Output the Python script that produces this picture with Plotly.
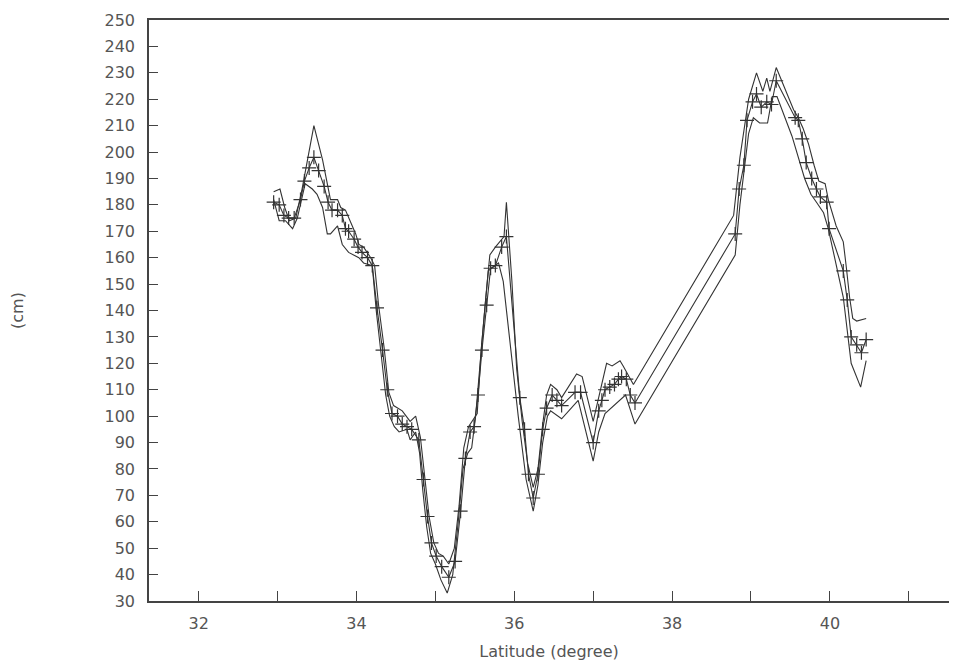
import plotly.graph_objects as go

# Center estimate (with + markers)
lat_c = [32.95, 33.02, 33.08, 33.14, 33.21, 33.29, 33.34, 33.40, 33.46, 33.52, 33.59, 33.64, 33.69,
         33.76, 33.82, 33.86, 33.90, 33.97, 34.02, 34.07, 34.14, 34.20, 34.26, 34.33, 34.39, 34.45,
         34.52, 34.58, 34.64, 34.70, 34.79, 34.85, 34.90, 34.95, 35.01, 35.08, 35.17, 35.25, 35.32,
         35.38, 35.44, 35.49, 35.54, 35.59, 35.65, 35.70, 35.76, 35.84, 35.90, 36.07, 36.13, 36.18,
         36.24, 36.30, 36.36, 36.41, 36.48, 36.54, 36.60, 36.77, 36.84, 37.00, 37.07, 37.11, 37.15,
         37.21, 37.27, 37.32, 37.36, 37.42, 37.47, 37.53, 38.80, 38.85, 38.91, 38.95, 39.02, 39.07,
         39.13, 39.20, 39.26, 39.32, 39.56, 39.60, 39.65, 39.70, 39.77, 39.83, 39.88, 39.96, 39.99,
         40.17, 40.22, 40.27, 40.34, 40.40, 40.46]
val_c = [181, 180, 176, 175, 175, 182, 189, 194, 198, 193, 187, 181, 178,
         178, 176, 171, 170, 167, 164, 162, 160, 157, 141, 125, 110, 101,
         100, 97, 96, 95, 91, 76, 62, 52, 47, 43, 39, 45, 64,
         84, 94, 96, 108, 125, 142, 156, 157, 164, 168, 107, 95, 78,
         69, 78, 95, 103, 108, 106, 104, 109, 109, 90, 102, 106, 110,
         111, 112, 114, 115, 114, 108, 105, 169, 186, 195, 212, 219, 222,
         217, 219, 218, 227, 213, 212, 205, 196, 190, 186, 183, 181, 171,
         155, 144, 130, 127, 124, 129]

# Upper bound
lat_u = [32.95, 33.03, 33.09, 33.15, 33.23, 33.31, 33.46, 33.57, 33.67, 33.76, 33.80, 33.86, 33.99,
         34.03, 34.09, 34.18, 34.23, 34.28, 34.35, 34.41, 34.47, 34.58, 34.68, 34.75, 34.81, 34.87,
         34.92, 34.98, 35.04, 35.10, 35.17, 35.24, 35.30, 35.36, 35.42, 35.53, 35.58, 35.64, 35.69,
         35.76, 35.87, 35.90, 35.97, 36.03, 36.10, 36.17, 36.24, 36.30, 36.36, 36.41, 36.46, 36.54,
         36.60, 36.79, 36.86, 37.00, 37.17, 37.24, 37.34, 37.38, 37.51, 38.78, 38.86, 38.97, 39.07,
         39.15, 39.20, 39.24, 39.32, 39.54, 39.60, 39.66, 39.73, 39.80, 39.86, 39.94, 39.98, 40.08,
         40.17, 40.21, 40.25, 40.29, 40.34, 40.46]
val_u = [185, 186, 179, 174, 175, 186, 210, 197, 182, 182, 179, 178, 169,
         165, 164, 160, 157, 142, 126, 109, 104, 102, 98, 100, 92, 76,
         62, 52, 48, 47, 44, 50, 66, 88, 96, 101, 125, 145, 161,
         164, 168, 181, 151, 118, 98, 82, 73, 80, 97, 108, 112, 110,
         107, 116, 115, 98, 120, 119, 121, 119, 112, 176, 198, 220, 230,
         223, 228, 223, 232, 216, 213, 209, 203, 195, 189, 188, 182, 172,
         166, 156, 145, 137, 136, 137]

# Lower bound
lat_l = [32.95, 33.02, 33.10, 33.19, 33.25, 33.35, 33.44, 33.50, 33.57, 33.63, 33.67, 33.76, 33.82,
         33.90, 34.03, 34.09, 34.20, 34.25, 34.31, 34.37, 34.42, 34.48, 34.54, 34.64, 34.68, 34.75,
         34.80, 34.84, 34.89, 34.94, 35.00, 35.07, 35.15, 35.22, 35.29, 35.35, 35.41, 35.46, 35.51,
         35.57, 35.63, 35.67, 35.80, 35.86, 36.05, 36.15, 36.24, 36.30, 36.36, 36.42, 36.46, 36.60,
         36.81, 37.00, 37.07, 37.15, 37.41, 37.53, 38.80, 38.86, 38.92, 38.97, 39.03, 39.11, 39.21,
         39.27, 39.33, 39.52, 39.68, 39.76, 39.83, 39.92, 39.98, 40.17, 40.27, 40.39, 40.46]
val_l = [182, 174, 174, 171, 175, 188, 186, 184, 179, 169, 169, 172, 165,
         162, 160, 158, 157, 140, 124, 108, 100, 96, 94, 95, 91, 94,
         86, 72, 58, 48, 44, 38, 33, 40, 60, 80, 86, 88, 100,
         122, 142, 155, 158, 151, 100, 76, 64, 74, 90, 100, 102, 99,
         106, 83, 94, 101, 108, 97, 161, 180, 195, 207, 213, 211, 211,
         221, 221, 206, 190, 184, 181, 177, 171, 145, 120, 111, 121]

x_ticks = [32, 33, 34, 35, 36, 37, 38, 39, 40, 41]
x_tick_text = ["32", "", "34", "", "36", "", "38", "", "40", ""]
y_ticks = list(range(30, 251, 10))

ink = "#333333"
fig = go.Figure()
fig.add_trace(go.Scatter(x=lat_u, y=val_u, mode="lines", line=dict(color=ink, width=1.1),
                         showlegend=False, hoverinfo="skip"))
fig.add_trace(go.Scatter(x=lat_l, y=val_l, mode="lines", line=dict(color=ink, width=1.1),
                         showlegend=False, hoverinfo="skip"))
fig.add_trace(go.Scatter(x=lat_c, y=val_c, mode="lines+markers", line=dict(color=ink, width=1.1),
                         marker=dict(symbol="cross-thin", size=10, line=dict(color=ink, width=1.2)),
                         showlegend=False))

font = dict(family="DejaVu Sans", size=16, color="#555555")
fig.update_layout(
    width=941, height=653,
    margin=dict(l=141, r=0, t=12, b=60, autoexpand=False),
    paper_bgcolor="white", plot_bgcolor="white",
    font=font,
    xaxis=dict(range=[31.37, 41.51], tickvals=x_ticks, ticktext=x_tick_text,
               ticks="inside", ticklen=10, tickwidth=1.2, tickcolor="#444",
               ticklabelstandoff=7, automargin=False,
               showline=True, linecolor="#444", linewidth=1.5, mirror=True,
               showgrid=False, zeroline=False,
               title=dict(text="Latitude (degree)", standoff=27, font=font)),
    yaxis=dict(range=[30, 250], tickvals=y_ticks,
               ticks="inside", ticklen=9, tickwidth=1.2, tickcolor="#444",
               ticklabelstandoff=9, automargin=False,
               showline=True, linecolor="#444", linewidth=1.5,
               showgrid=False, zeroline=False,
               title=dict(text="(cm)", standoff=88, font=font)),
)
fig.write_html("out.html")
